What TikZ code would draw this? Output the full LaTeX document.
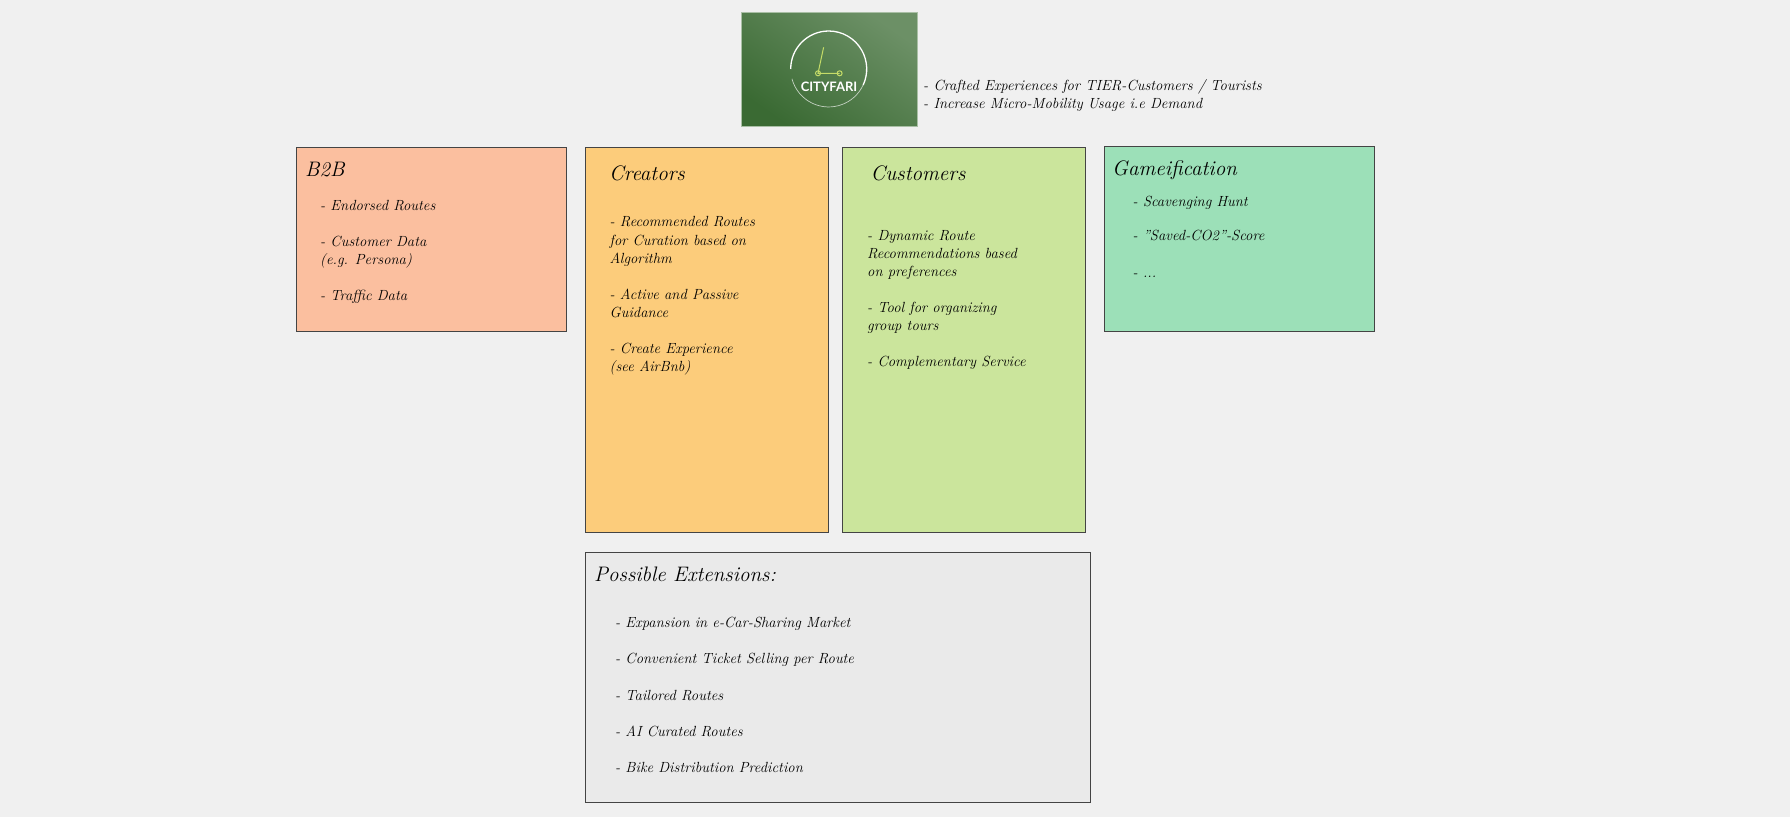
\documentclass[tikz,border=0pt]{standalone}
\usepackage{fontspec}
\usetikzlibrary{shapes,arrows}
\newfontfamily\logofont{Lato}
\definecolor{bgc}{HTML}{F0F0F0}
\definecolor{edgec}{HTML}{444444}
\definecolor{b2bc}{HTML}{FBBF9F}
\definecolor{creatc}{HTML}{FCCC7B}
\definecolor{custc}{HTML}{CBE59C}
\definecolor{gamec}{HTML}{9CE0B8}
\definecolor{extc}{HTML}{EAEAEA}
\definecolor{scootc}{HTML}{C5DC68}
\definecolor{logoa}{HTML}{3A6A33}
\definecolor{logob}{HTML}{6C9066}
\definecolor{logoe}{HTML}{A9BFA5}
\tikzstyle{r} = [rectangle, draw=edgec, line width=0.9pt, inner sep=0pt]
\tikzstyle{t} = [anchor=west, inner sep=0pt, font=\fontsize{21}{25}\selectfont\itshape\addfontfeatures{FakeBold=0.3}]
\tikzstyle{b} = [anchor=north west, inner sep=0pt, align=left, text=black, font=\fontsize{14.7}{18.1}\selectfont\itshape\addfontfeatures{FakeBold=0.5}]

\begin{document}
\begin{tikzpicture}[x=1pt, y=1pt]
		\path[use as bounding box, fill=bgc] (0,0) rectangle (1790,-817);

		% logo
		\node[rectangle, draw=logoe, line width=0.6pt, minimum width=175.5pt, minimum height=114pt, inner sep=0pt, shading=axis, left color=logoa, right color=logob, shading angle=145](logo) at (829.2,-69.7){};
		\draw[white, line width=1.3pt] (828.7,-69) ++(-38,0) arc[start angle=180, end angle=-25, radius=38];
		\draw[white!70!logoa, line width=0.7pt] (828.7,-69) ++(34.4,-16) arc[start angle=-25, end angle=-165, radius=38];
		\draw[scootc, line width=1pt] (823.6,-47.3) -- (818,-73.3) -- (839.6,-73.3);
		\draw[scootc, line width=1pt] (818,-73.3) circle (2.5);
		\draw[scootc, line width=1pt] (839.6,-73.3) circle (2.5);
		\node[inner sep=0pt, text=white, font=\fontsize{13}{15}\selectfont\logofont\bfseries](cityfari) at (829,-86.7){CITYFARI};
		\node[b](claim) at (923,-79.4){- Crafted Experiences for TIER-Customers / Tourists\\- Increase Micro-Mobility Usage i.e Demand};

		% boxes
		\node[r, fill=b2bc, minimum width=270.4pt, minimum height=184.7pt](b2b) at (431.6,-239.4){};
		\node[r, fill=creatc, minimum width=243pt, minimum height=385pt](creators) at (707.2,-339.5){};
		\node[r, fill=custc, minimum width=243pt, minimum height=385pt](customers) at (964.1,-339.5){};
		\node[r, fill=gamec, minimum width=269.7pt, minimum height=185.4pt](game) at (1239.2,-239){};
		\node[r, fill=extc, minimum width=505.2pt, minimum height=250pt](ext) at (837.9,-677){};

		% titles
		\node[t](b2bt) at (305,-169.3){B2B};
		\node[t](creatorst) at (609,-173.3){Creators};
		\node[t](customerst) at (870.5,-173.3){Customers};
		\node[t](gamet) at (1112,-170.3){Gameification};
		\node[t](extt) at (594,-574){Possible Extensions:};

		% lists
		\node[b](b2bl) at (320,-200){- Endorsed Routes\\[18.1pt]- Customer Data\\(e.g. Persona)\\[18.1pt]- Traffic Data};
		\node[b](creatorsl) at (609.5,-216.5){- Recommended Routes\\for Curation based on\\Algorithm\\[18.1pt]- Active and Passive\\Guidance\\[18.1pt]- Create Experience\\(see AirBnb)};
		\node[b](customersl) at (867,-230){- Dynamic Route\\Recommendations based\\on preferences\\[18.1pt]- Tool for organizing\\group tours\\[18.1pt]- Complementary Service};
		\node[b](gamel) at (1132.5,-196){- Scavenging Hunt\\[16pt]- "Saved-CO2"-Score\\[18.5pt]- ...};
		\node[b](extl) at (615,-617){- Expansion in e-Car-Sharing Market\\[18.2pt]- Convenient Ticket Selling per Route\\[18.2pt]- Tailored Routes\\[18.2pt]- AI Curated Routes\\[18.2pt]- Bike Distribution Prediction};
	\end{tikzpicture}
\end{document}
